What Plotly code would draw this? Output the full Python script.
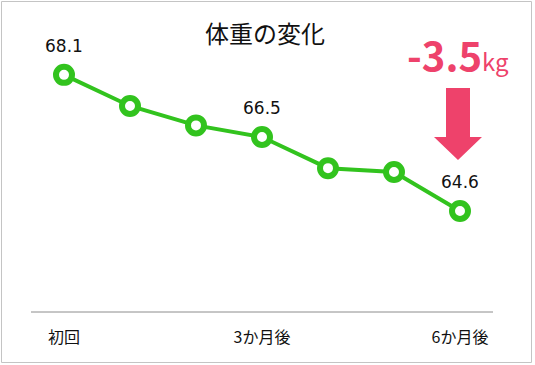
import plotly.graph_objects as go

# ---- data ----
categories = ["初回", "1か月後", "2か月後", "3か月後", "4か月後", "5か月後", "6か月後"]
weights = [68.1, 67.3, 66.8, 66.5, 65.7, 65.6, 64.6]
point_labels = ["68.1", "", "", "66.5", "", "", "64.6"]
tick_positions = ["初回", "3か月後", "6か月後"]
tick_labels = ["初回", "3か月後", "6か月後"]
title_text = "体重の変化"
change_value = "-3.5"
change_unit = "kg"

W, H = 535, 365
L, R, T, B = 31, 42, 1, 53
PW, PH = W - L - R, H - T - B

GREEN = "#32C31E"
PINK = "#EE426B"
FONT = "Noto Sans CJK JP"
NUMFONT = "DejaVu Sans"


def px(x):
    return (x - L) / PW


def py(y):
    return (H - B - y) / PH


fig = go.Figure()
fig.add_trace(go.Scatter(
    x=categories, y=weights, mode="lines+markers",
    line=dict(color=GREEN, width=4),
    marker=dict(symbol="circle", size=16, color="white",
                line=dict(color=GREEN, width=6)),
    cliponaxis=False, hoverinfo="skip",
))

# data labels attached to the data points
for cat, val, lab in zip(categories, weights, point_labels):
    if lab:
        fig.add_annotation(x=cat, y=val, text=lab, showarrow=False,
                           xanchor="center", yanchor="middle", yshift=29,
                           font=dict(family=NUMFONT, size=17, color="#111111"))

# arrow (decoration) in pixel-derived paper coords
ax = 458
arrow_pts = [(ax - 12, 88), (ax + 12, 88), (ax + 12, 137), (ax + 24, 137),
             (ax, 160), (ax - 24, 137), (ax - 12, 137)]
path = "M " + " L ".join(f"{px(x):.5f},{py(y):.5f}" for x, y in arrow_pts) + " Z"

shapes = [
    dict(type="path", xref="paper", yref="paper", path=path,
         fillcolor=PINK, line=dict(width=0)),
    dict(type="rect", xref="paper", yref="paper",
         x0=px(1.5), x1=px(531.5), y0=py(1.5), y1=py(362.5),
         line=dict(color="#C4C4C4", width=1), fillcolor="rgba(0,0,0,0)",
         layer="below"),
    dict(type="line", xref="paper", yref="paper", x0=0, x1=1, y0=0, y1=0,
         line=dict(color="#8C8C8C", width=1)),
]

fig.add_annotation(text=title_text, xref="paper", yref="paper", x=px(264.5), y=py(32),
                   xanchor="center", yanchor="middle", showarrow=False,
                   font=dict(family=FONT, size=24, color="#111111"))
fig.add_annotation(text=f"<b>{change_value}</b><span style='font-size:24px'>{change_unit}</span>",
                   xref="paper", yref="paper", x=px(458), y=py(54),
                   xanchor="center", yanchor="middle", showarrow=False,
                   font=dict(family=FONT, size=40, color=PINK))

fig.update_layout(
    width=W, height=H,
    margin=dict(l=L, r=R, t=T, b=B),
    paper_bgcolor="white", plot_bgcolor="white",
    showlegend=False,
    shapes=shapes,
    xaxis=dict(type="category", categoryorder="array", categoryarray=categories,
               range=[-0.5, len(categories) - 0.5],
               tickmode="array", tickvals=tick_positions, ticktext=tick_labels,
               showgrid=False, zeroline=False, showline=False, ticks="",
               ticklabelstandoff=14,
               tickfont=dict(family=FONT, size=16, color="#111111")),
    yaxis=dict(range=[62, 70], showgrid=False, zeroline=False,
               showline=False, showticklabels=False, ticks=""),
)

fig.write_html("out.html", config={"displayModeBar": False},
               post_script="document.body.style.margin='0';document.body.style.padding='0';")
